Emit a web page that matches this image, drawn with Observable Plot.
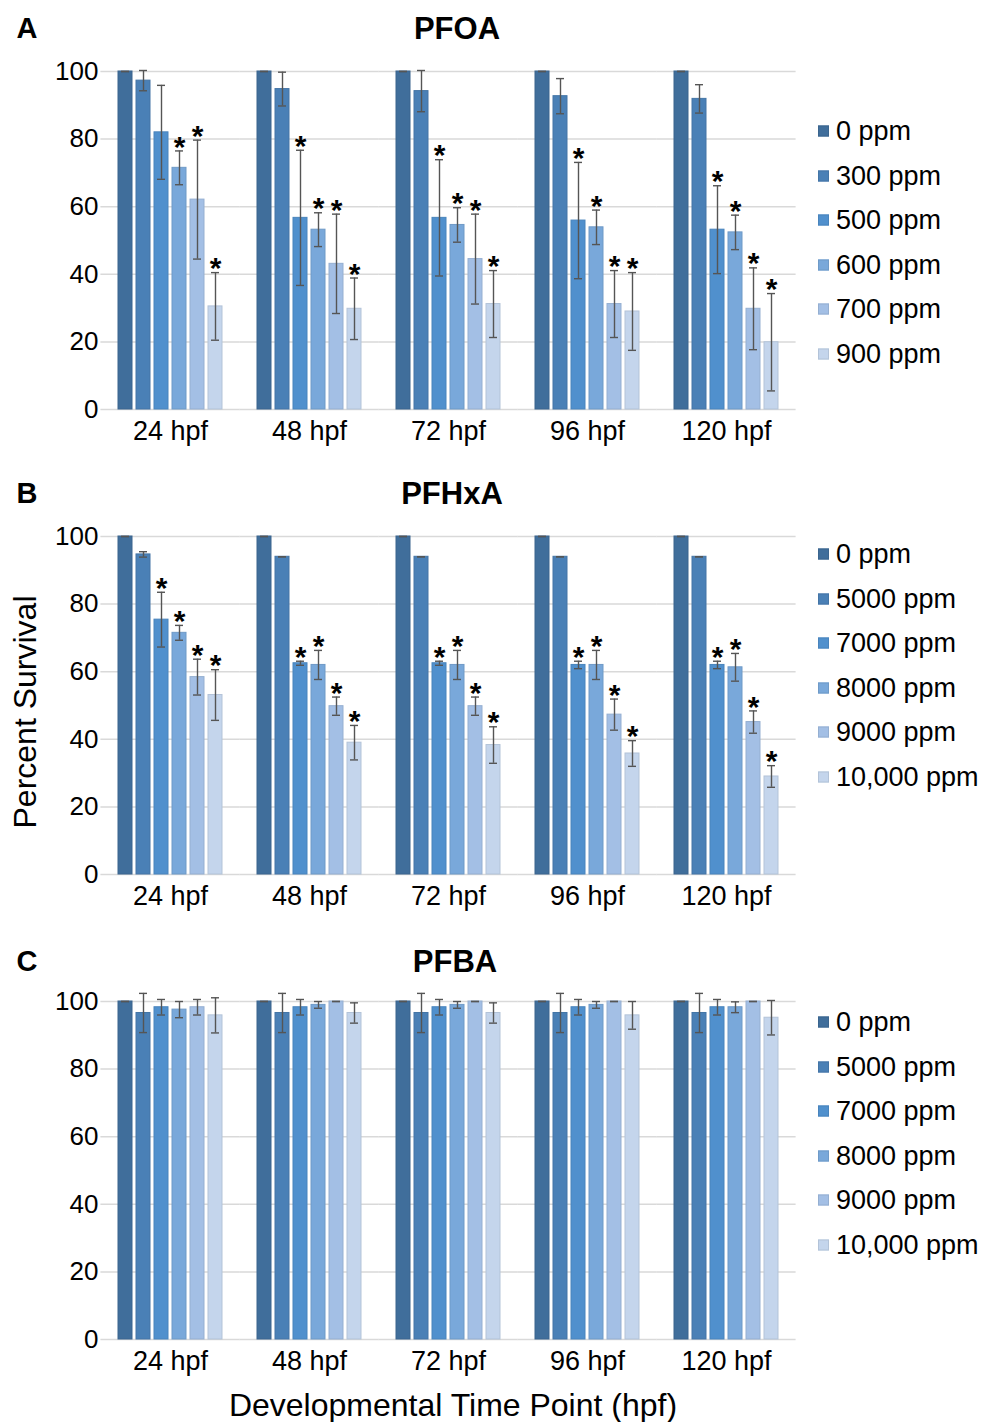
<!DOCTYPE html>
<html>
<head>
<meta charset="utf-8">
<script src="https://cdn.jsdelivr.net/npm/d3@7"></script>
<script src="https://cdn.jsdelivr.net/npm/@observablehq/plot@0.6"></script>
<style>
  body { margin: 0; background: white; font-family: "Liberation Sans", Arial, sans-serif; color: #000; }
  #page { position: relative; width: 987px; height: 1422px; overflow: hidden; }
  .panel { position: absolute; left: 0; }
  .lbl { position: absolute; white-space: nowrap; transform: translate(-50%, -50%); line-height: 1; }
  .legend-row { position: absolute; left: 818px; display: flex; align-items: center; transform: translateY(-50%); font-size: 27px; white-space: nowrap; }
  .swatch { width: 11px; height: 11px; margin-right: 7px; box-sizing: border-box; }
</style>
</head>
<body>
<div id="page"></div>
<script>
// ---------- data ----------
const timePoints = ["24 hpf", "48 hpf", "72 hpf", "96 hpf", "120 hpf"];
const doseColors = ["#406e9b", "#4a80b6", "#5090cd", "#79a8da", "#a3bfe5", "#c4d5ec"];

// Panel A: PFOA
const pfoaDoses = ["0 ppm", "300 ppm", "500 ppm", "600 ppm", "700 ppm", "900 ppm"];
const pfoaMean = [
  [100, 97.3, 82.0, 71.5, 62.1, 30.5],
  [100, 94.8, 56.7, 53.2, 43.1, 29.8],
  [100, 94.2, 56.7, 54.6, 44.5, 31.2],
  [100, 92.7, 55.9, 53.9, 31.2, 29.0],
  [100, 91.9, 53.2, 52.4, 29.8, 19.9]
];
const pfoaErr = [
  [0, 3.0, 13.9, 5.0, 17.6, 10.0],
  [0, 5.0, 20.0, 5.0, 14.7, 9.1],
  [0, 6.1, 17.2, 5.1, 13.3, 9.9],
  [0, 5.2, 17.2, 5.1, 9.9, 11.5],
  [0, 4.2, 13.0, 5.1, 12.1, 14.4]
];
const pfoaSig = [
  [0, 0, 0, 1, 1, 1],
  [0, 0, 1, 1, 1, 1],
  [0, 0, 1, 1, 1, 1],
  [0, 0, 1, 1, 1, 1],
  [0, 0, 1, 1, 1, 1]
];

// Panel B: PFHxA
const pfhxaDoses = ["0 ppm", "5000 ppm", "7000 ppm", "8000 ppm", "9000 ppm", "10,000 ppm"];
const pfhxaMean = [
  [100, 94.7, 75.4, 71.5, 58.4, 53.1],
  [100, 94.0, 62.5, 62.0, 49.8, 39.0],
  [100, 94.0, 62.5, 62.0, 49.8, 38.3],
  [100, 94.0, 62.0, 62.0, 47.3, 35.8],
  [100, 94.0, 62.0, 61.3, 45.1, 29.0]
];
const pfhxaErr = [
  [0, 0.8, 8.1, 2.2, 5.3, 7.5],
  [0, 0, 0.6, 4.3, 2.7, 5.1],
  [0, 0, 0.6, 4.3, 2.7, 5.4],
  [0, 0, 1.1, 4.3, 4.6, 3.8],
  [0, 0, 1.1, 4.1, 3.3, 3.2]
];
const pfhxaSig = [
  [0, 0, 1, 1, 1, 1],
  [0, 0, 1, 1, 1, 1],
  [0, 0, 1, 1, 1, 1],
  [0, 0, 1, 1, 1, 1],
  [0, 0, 1, 1, 1, 1]
];

// Panel C: PFBA
const pfbaDoses = ["0 ppm", "5000 ppm", "7000 ppm", "8000 ppm", "9000 ppm", "10,000 ppm"];
const pfbaMean = [
  [100, 96.6, 98.3, 97.6, 98.3, 95.9],
  [100, 96.6, 98.3, 99.0, 100, 96.6],
  [100, 96.6, 98.3, 99.0, 100, 96.6],
  [100, 96.6, 98.3, 99.0, 100, 95.9],
  [100, 96.6, 98.3, 98.3, 100, 95.2]
];
const pfbaErr = [
  [0, 5.8, 2.3, 2.4, 2.3, 5.2],
  [0, 5.8, 2.3, 1.0, 0, 3.0],
  [0, 5.8, 2.3, 1.0, 0, 3.0],
  [0, 5.8, 2.3, 1.0, 0, 4.1],
  [0, 5.8, 2.3, 1.6, 0, 5.1]
];
const pfbaSig = [
  [0, 0, 0, 0, 0, 0],
  [0, 0, 0, 0, 0, 0],
  [0, 0, 0, 0, 0, 0],
  [0, 0, 0, 0, 0, 0],
  [0, 0, 0, 0, 0, 0]
];

const yTicks = [0, 20, 40, 60, 80, 100];

// ---------- drawing ----------
const page = document.getElementById("page");
const FONT = "'Liberation Sans', Arial, sans-serif";

function makePanel(doses, mean, err, sig) {
  const data = [];
  timePoints.forEach((t, i) => doses.forEach((d, j) => data.push({
    time: t, dose: d, mean: mean[i][j], err: err[i][j], sig: sig[i][j],
    lo: mean[i][j] - err[i][j], hi: mean[i][j] + err[i][j]
  })));
  const strokes = doseColors.map(c => d3.color(c).darker(0.25).formatHex());
  return Plot.plot({
    width: 987, height: 465,
    marginLeft: 98, marginRight: 189, marginTop: 71, marginBottom: 56,
    style: { fontFamily: FONT, fontSize: "26px", color: "#000", background: "white", overflow: "visible" },
    fx: { domain: timePoints, paddingInner: 0.207, paddingOuter: 0.1036, label: null },
    x: { domain: doses, paddingInner: 0.24, paddingOuter: 0.12, axis: null },
    y: { domain: [0, 100], label: null },
    marks: [
      // gridlines: extend each facet's rule across the gap so the lines run continuously
      Plot.ruleY(yTicks, { stroke: "#d9d9d9", strokeWidth: 1.5, insetLeft: -14.6, insetRight: -14.6 }),
      Plot.axisY(yTicks, { tickSize: 0, tickPadding: 17, label: null, fontSize: 26, fill: "#000" }),
      Plot.axisFx({ anchor: "bottom", tickSize: 0, tickPadding: 11, label: null, fontSize: 27, fill: "#000" }),
      Plot.barY(data, {
        fx: "time", x: "dose", y: "mean",
        fill: d => doseColors[doses.indexOf(d.dose)],
        stroke: d => strokes[doses.indexOf(d.dose)], strokeWidth: 1
      }),
      Plot.ruleX(data, { fx: "time", x: "dose", y1: "lo", y2: "hi", stroke: "#555", strokeWidth: 1.4 }),
      Plot.tickY(data, { fx: "time", x: "dose", y: "lo", stroke: "#555", strokeWidth: 1.4, insetLeft: 3, insetRight: 3 }),
      Plot.tickY(data, { fx: "time", x: "dose", y: "hi", stroke: "#555", strokeWidth: 1.4, insetLeft: 3, insetRight: 3 }),
      Plot.text(data.filter(d => d.sig), {
        fx: "time", x: "dose", y: "hi", text: () => "*",
        fontSize: 30, fontWeight: "bold", fill: "#000", lineAnchor: "middle", dy: -4
      })
    ]
  });
}

function addLabel(text, x, y, style) {
  const el = document.createElement("div");
  el.className = "lbl";
  el.textContent = text;
  el.style.left = x + "px";
  el.style.top = y + "px";
  Object.assign(el.style, style);
  page.appendChild(el);
  return el;
}

function addLegend(doses, top) {
  doses.forEach((d, i) => {
    const row = document.createElement("div");
    row.className = "legend-row";
    row.style.top = (top + i * 44.6) + "px";
    const sw = document.createElement("div");
    sw.className = "swatch";
    sw.style.background = doseColors[i];
    sw.style.border = "1px solid " + d3.color(doseColors[i]).darker(0.25).formatHex();
    const tx = document.createElement("span");
    tx.textContent = d;
    row.appendChild(sw);
    row.appendChild(tx);
    page.appendChild(row);
  });
}

const panels = [
  { letter: "A", title: "PFOA", titleX: 457, doses: pfoaDoses, mean: pfoaMean, err: pfoaErr, sig: pfoaSig, legendTop: 131 },
  { letter: "B", title: "PFHxA", titleX: 452, doses: pfhxaDoses, mean: pfhxaMean, err: pfhxaErr, sig: pfhxaSig, legendTop: 554 },
  { letter: "C", title: "PFBA", titleX: 455, doses: pfbaDoses, mean: pfbaMean, err: pfbaErr, sig: pfbaSig, legendTop: 1022 }
];

panels.forEach((p, k) => {
  const top = k * 465;
  const wrap = document.createElement("div");
  wrap.className = "panel";
  wrap.style.top = top + "px";
  wrap.appendChild(makePanel(p.doses, p.mean, p.err, p.sig));
  page.appendChild(wrap);
  const ty = [28, 493, 961][k];
  addLabel(p.letter, 27, ty, { fontSize: "29px", fontWeight: "bold" });
  addLabel(p.title, p.titleX, ty, { fontSize: "31px", fontWeight: "bold" });
  addLegend(p.doses, p.legendTop);
});

addLabel("Percent Survival", 25, 712, { fontSize: "32px", transform: "translate(-50%, -50%) rotate(-90deg)" });
addLabel("Developmental Time Point (hpf)", 453, 1405, { fontSize: "32px" });
</script>
</body>
</html>
